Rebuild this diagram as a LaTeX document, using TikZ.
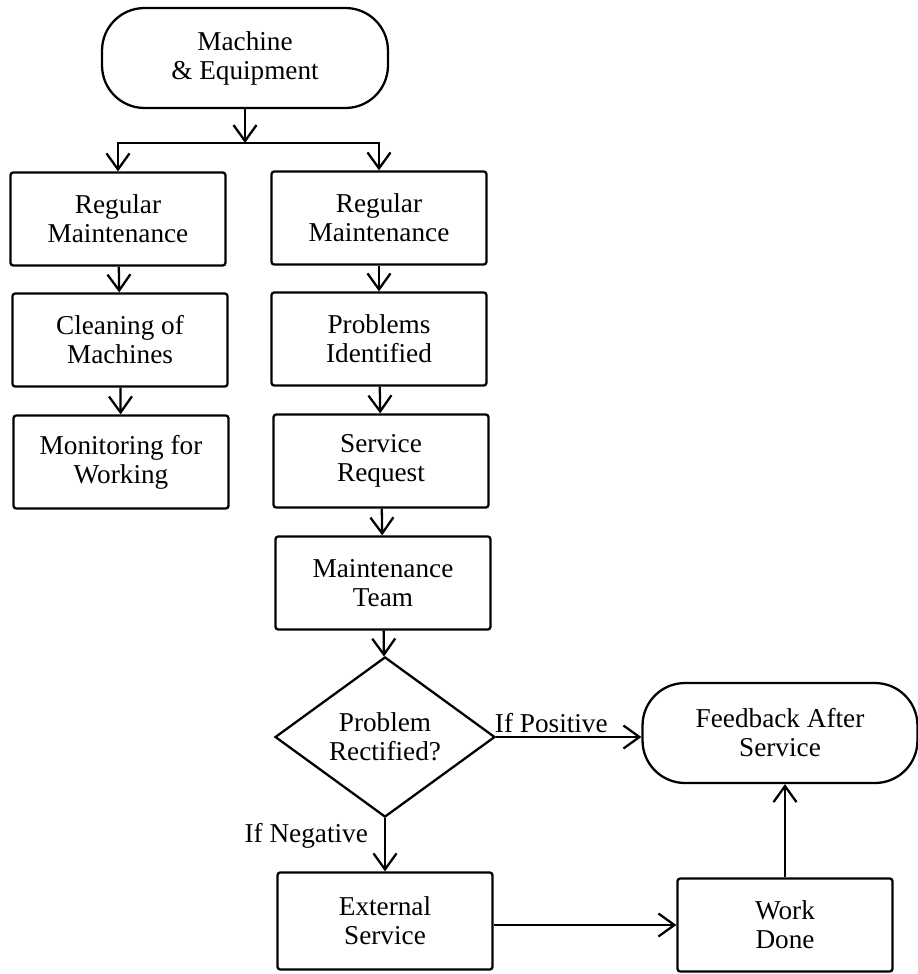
\documentclass[tikz,border=0pt]{standalone}
\usepackage{fontspec}
\setmainfont{Liberation Serif}
\usetikzlibrary{arrows.meta,shapes.geometric}

\tikzset{
  every node/.style={font=\fontsize{15.5}{16.5}\selectfont, align=center},
  stepbox/.style={draw, line width=1.3pt, rounded corners=1.5pt, inner sep=2pt,
                  minimum width=4.3cm, minimum height=1.86cm},
  terminal/.style={draw, line width=1.3pt, rounded corners=0.85cm, inner sep=2pt,
                   minimum height=2cm},
  decision/.style={draw, diamond, line width=1.3pt, inner sep=0pt,
                   minimum width=4.4cm, minimum height=3.08cm},
  arr/.style={line width=1.3pt, -{Straight Barb[length=3.2mm,width=4.6mm]}},
  lbl/.style={font=\fontsize{15.5}{16.5}\selectfont, inner sep=2pt}
}

\begin{document}
\begin{tikzpicture}[x=0.02cm, y=-0.02cm]
  \useasboundingbox (0,0) rectangle (918,974);

  % start terminal and the split below it
  \node[terminal, minimum width=5.72cm] (start) at (245,58) {Machine\\ \& Equipment};
  \coordinate (sp) at (245,143);

  % left column
  \node[stepbox] (L1) at (118,219) {Regular\\Maintenance};
  \node[stepbox] (L2) at (120,340) {Cleaning of\\Machines};
  \node[stepbox] (L3) at (121,462) {Monitoring for\\Working};

  % right column
  \node[stepbox] (R1) at (379,218) {Regular\\Maintenance};
  \node[stepbox] (R2) at (379,339) {Problems\\Identified};
  \node[stepbox] (R3) at (381,461) {Service\\Request};
  \node[stepbox] (R4) at (383,583) {Maintenance\\Team};

  % decision and outcomes
  \node[decision] (D) at (385,737) {Problem\\Rectified?};
  \node[terminal, minimum width=5.5cm] (F) at (780,733) {Feedback After\\Service};
  \node[stepbox, minimum height=1.94cm] (E) at (385,921) {External\\Service};
  \node[stepbox] (W) at (785,925) {Work\\Done};

  % connectors
  \draw[arr] (start) -- (sp);
  \draw[arr] (sp) -| (L1);
  \draw[arr] (sp) -| (R1);
  \draw[arr] (L1) -- (L2);
  \draw[arr] (L2) -- (L3);
  \draw[arr] (R1) -- (R2);
  \draw[arr] (R2) -- (R3);
  \draw[arr] (R3) -- (R4);
  \draw[arr] (R4) -- (D);
  \draw[arr] (D.east) -- node[lbl, above, pos=0.38] {If Positive} (D.east -| F.west);
  \draw[arr] (D.south) -- node[lbl, left, pos=0.33, xshift=-0.25cm] {If Negative} (E.north);
  \draw[arr] (E.east |- W.west) -- (W.west);
  \draw[arr] (W.north) -- (W.north |- F.south);
\end{tikzpicture}
\end{document}
